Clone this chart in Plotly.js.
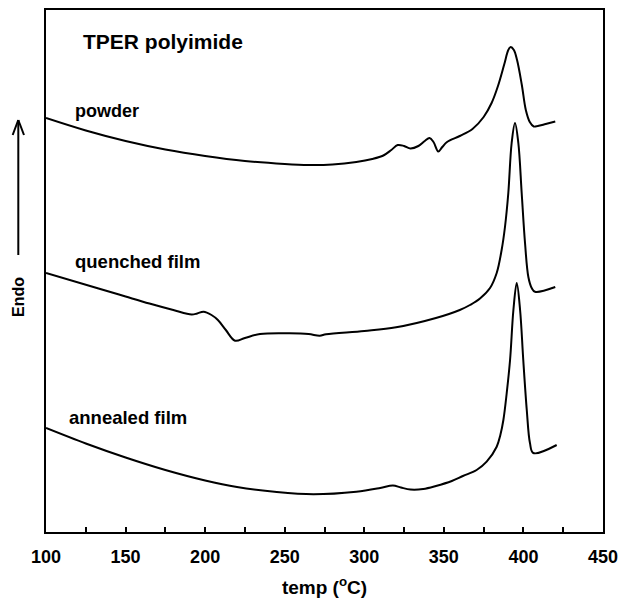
<!DOCTYPE html>
<html>
<head>
<meta charset="utf-8">
<script src="https://cdn.plot.ly/plotly-3.0.1.min.js"></script>
<style>html,body{margin:0;padding:0;background:#fff;}#chart{width:620px;height:601px;}</style>
</head>
<body>
<div id="chart"></div>
<script>
// Temperature (°C) and DSC signal (arbitrary units, endo up)
const powderT = [100,125,150,175,200,225,250,265,280,295,305,312,317,321,325,329,334,338,341,343.5,346.5,349,352,360,368,375,380,384,388,390.5,392,394,396,399,401.5,404,406.5,409,414,420];
const powderY = [414,401.5,391,382.5,376,371,368,367,367.5,370,373,376.5,382,387,386,383.5,386,391,394,390,380.5,385,390,396,403,415,429,446,468,482,485,482,472,447,422,410,405.5,406,408,410.5];

const quenchedT = [100,133,150,165,180,191.5,195,199,204,208,213,218.8,225,234.5,253,265,272,276,300,320,345,360,366.4,372.7,379,383.2,386.3,388.4,390.5,392.6,394.7,396.8,398.9,401,403.1,405.2,407.3,420];
const quenchedY = [259,243.5,235.5,228.5,222,217.5,218.5,220.3,217,212,202,191.3,194,198,198.7,198,196.3,197.7,201,204.7,214,222,227,233.5,244,259,282,305,339,389,409,389,339,289,255,244,240.3,245];

const annealedT = [100,125,150,175,200,220,245,268,295,310,318,323,329,337,345,355,362,370.6,376.9,383.2,385.5,387.4,389.5,391.6,393.7,395.8,397.9,399.9,402.1,404.1,406.2,420.9];
const annealedY = [104,88.5,74.5,62,51.5,45,40,37.8,40.3,44,46.5,44.5,42.5,43,46,51,56,62,70.3,85.3,97,112,139,172,222,249,222,172,122,89,79,87];

const xTickVals = [100,150,200,250,300,350,400,450];
const xTickText = ['100','150','200','250','300','350','400','450'];

const FONT = 'Liberation Sans, Arial, Helvetica, sans-serif';
const lineStyle = {color:'#000', width:2, shape:'spline', smoothing:1};

const traces = [
  {x: powderT, y: powderY, mode:'lines', line: lineStyle, name:'powder', hoverinfo:'skip'},
  {x: quenchedT, y: quenchedY, mode:'lines', line: lineStyle, name:'quenched film', hoverinfo:'skip'},
  {x: annealedT, y: annealedY, mode:'lines', line: lineStyle, name:'annealed film', hoverinfo:'skip'}
];

const px = v => (v-46)/557;
const py = v => (532-v)/522;

const layout = {
  width:620, height:601,
  margin:{l:46, r:17, t:10, b:69},
  paper_bgcolor:'#fff', plot_bgcolor:'#fff',
  showlegend:false,
  font:{family:FONT, color:'#000'},
  xaxis:{
    range:[100,450], tickmode:'array', tickvals:xTickVals, ticktext:xTickText,
    ticks:'inside', ticklen:5, tickwidth:2, tickcolor:'#000',
    minor:{dtick:25, tick0:100, ticks:'inside', ticklen:5, tickwidth:2, tickcolor:'#000', showgrid:false},
    showgrid:false, zeroline:false,
    showline:true, linecolor:'#000', linewidth:2, mirror:true,
    tickfont:{family:FONT, size:18, color:'#000', weight:'bold'},
    ticklabelstandoff:7,
    title:{text:'temp (<sup>o</sup>C)', font:{family:FONT, size:19, color:'#000', weight:'bold'}, standoff:15}
  },
  yaxis:{
    range:[0,522], showticklabels:false, ticks:'', showgrid:false, zeroline:false,
    showline:true, linecolor:'#000', linewidth:2, mirror:true
  },
  annotations:[
    {text:'TPER polyimide', xref:'paper', yref:'paper', x:px(81), y:py(42), xanchor:'left', yanchor:'middle', showarrow:false, font:{family:FONT, size:21, weight:'bold'}},
    {text:'powder', xref:'paper', yref:'paper', x:px(73), y:py(111), xanchor:'left', yanchor:'middle', showarrow:false, font:{family:FONT, size:18, weight:'bold'}},
    {text:'quenched film', xref:'paper', yref:'paper', x:px(73), y:py(261), xanchor:'left', yanchor:'middle', showarrow:false, font:{family:FONT, size:18.5, weight:'bold'}},
    {text:'annealed film', xref:'paper', yref:'paper', x:px(67), y:py(417), xanchor:'left', yanchor:'middle', showarrow:false, font:{family:FONT, size:18.5, weight:'bold'}},
    {text:'Endo', xref:'paper', yref:'paper', x:px(18.5), y:py(297.5), xanchor:'center', yanchor:'middle', textangle:-90, showarrow:false, font:{family:FONT, size:16, weight:'bold'}}
  ],
  shapes:[
    {type:'line', xref:'paper', yref:'paper', x0:px(18.3), y0:py(255), x1:px(18.3), y1:py(120), line:{color:'#000', width:2}},
    {type:'line', xref:'paper', yref:'paper', x0:px(12.7), y0:py(135), x1:px(18.3), y1:py(120), line:{color:'#000', width:2}},
    {type:'line', xref:'paper', yref:'paper', x0:px(24), y0:py(135), x1:px(18.3), y1:py(120), line:{color:'#000', width:2}}
  ]
};

Plotly.newPlot('chart', traces, layout, {staticPlot:true, displayModeBar:false});
</script>
</body>
</html>
